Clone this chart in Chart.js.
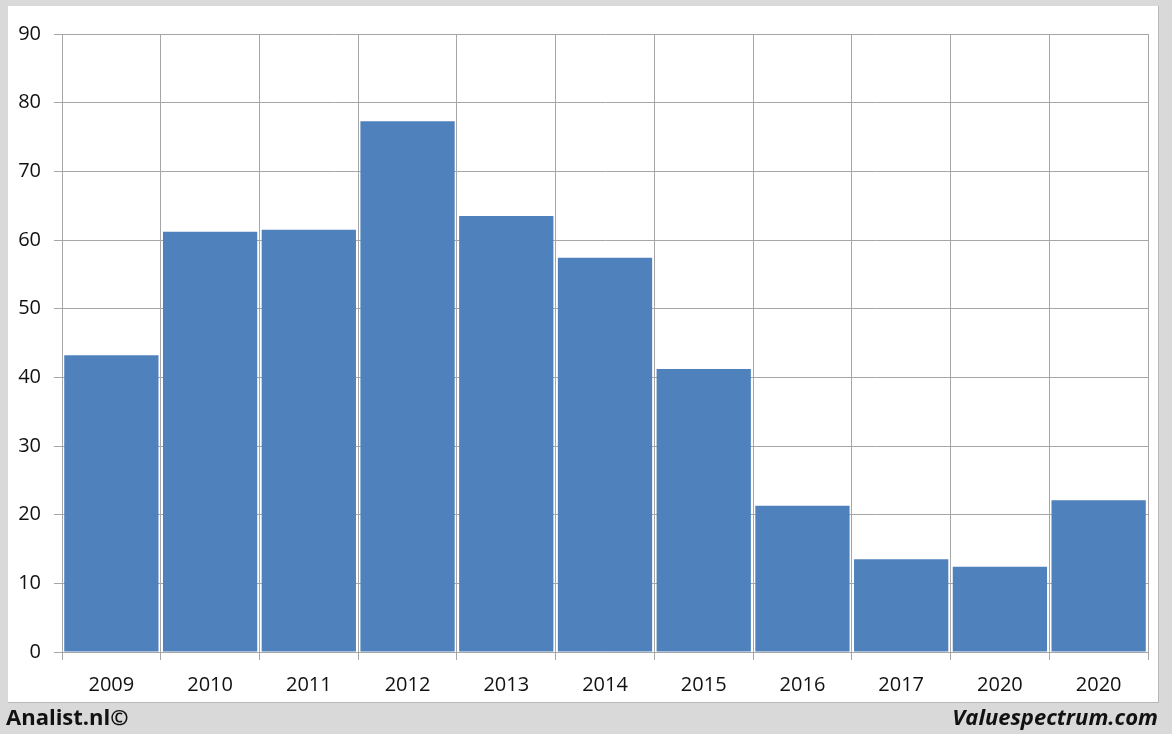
<!DOCTYPE html>
<html lang="en">
<head>
    <meta charset="UTF-8">
    <title>Analist.nl chart</title>
    <script src="https://cdn.jsdelivr.net/npm/chart.js"></script>
    <style>
        body {
            margin: 0;
            width: 1172px;
            height: 734px;
            background: #d9d9d9;
            position: relative;
            overflow: hidden;
            font-family: 'Open Sans', 'Liberation Sans', sans-serif;
        }
        .panel {
            position: absolute;
            left: 8px;
            top: 6px;
            width: 1150px;
            height: 696px;
            background: #fff;
            border-right: 1px solid #b8b8b8;
            border-bottom: 1px solid #b8b8b8;
        }
        .credit {
            position: absolute;
            top: 701px;
            font-size: 22px;
            font-weight: bold;
            color: #111;
        }
        #left { left: 6px; }
        #right { right: 14px; font-style: italic; }
    </style>
</head>
<body>
    <div class="panel">
        <canvas id="chart" width="1150" height="696"></canvas>
    </div>
    <div class="credit" id="left">Analist.nl©</div>
    <div class="credit" id="right">Valuespectrum.com</div>

    <script>
        // years on the x axis (the last two really are both 2020 in the source)
        const years = ['2009', '2010', '2011', '2012', '2013', '2014', '2015', '2016', '2017', '2020', '2020'];
        const values = [43.2, 61.2, 61.5, 77.3, 63.5, 57.4, 41.2, 21.3, 13.5, 12.4, 22.1];
        const yTicks = [0, 10, 20, 30, 40, 50, 60, 70, 80, 90];

        const gridColor = '#a6a6a6';
        const tickFont = { family: "'Open Sans', 'Liberation Sans', sans-serif", size: 20 };

        const ctx = document.getElementById('chart').getContext('2d');
        new Chart(ctx, {
            type: 'bar',
            data: {
                labels: years,
                datasets: [{
                    data: values,
                    backgroundColor: '#4f81bd',
                    borderWidth: 0,
                    barPercentage: 0.955,
                    categoryPercentage: 1.0
                }]
            },
            options: {
                responsive: false,
                animation: false,
                layout: { padding: { top: 28, right: 10, left: 0, bottom: 0 } },
                plugins: {
                    legend: { display: false },
                    tooltip: { enabled: false }
                },
                scales: {
                    x: {
                        offset: true,
                        grid: {
                            offset: true,
                            color: gridColor,
                            tickLength: 8,
                            drawOnChartArea: true
                        },
                        border: { color: gridColor },
                        ticks: {
                            color: '#111',
                            font: tickFont,
                            padding: 13
                        },
                        afterFit(scale) { scale.height = 50; }
                    },
                    y: {
                        min: 0,
                        max: 90,
                        afterBuildTicks(scale) {
                            scale.ticks = yTicks.map(v => ({ value: v }));
                        },
                        grid: {
                            color: gridColor,
                            tickLength: 8
                        },
                        border: { color: gridColor },
                        ticks: {
                            color: '#111',
                            font: tickFont,
                            padding: 13
                        },
                        afterFit(scale) { scale.width = 54; }
                    }
                }
            }
        });
    </script>
</body>
</html>
